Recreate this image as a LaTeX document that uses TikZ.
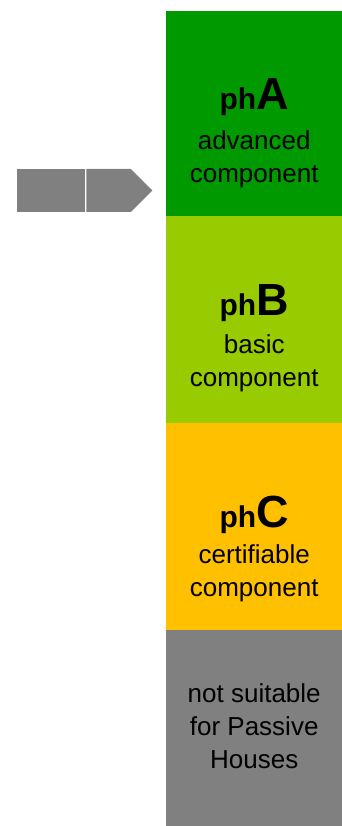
\documentclass[tikz,border=0pt]{standalone}
\usepackage{fontspec}
\setmainfont{Liberation Sans}
\usetikzlibrary{positioning,shapes.symbols}
\definecolor{gradeA}{HTML}{009900}
\definecolor{gradeB}{HTML}{99CC00}
\definecolor{gradeC}{HTML}{FFC000}
\definecolor{gradeN}{HTML}{808080}
\tikzset{
grade/.style={
  rectangle,
  inner sep=0pt,
  minimum width=176pt,
  anchor=north west
  },
title/.style={
  anchor=base,
  inner sep=0pt,
  font=\bfseries\fontsize{30}{36}\selectfont
  },
desc/.style={
  anchor=north,
  inner sep=0pt,
  align=center,
  font=\fontsize{26}{33}\selectfont
  },
marker/.style={
  fill=gradeN,
  inner sep=0pt,
  minimum height=43pt
  }
}
\newcommand{\bigltr}[1]{{\fontsize{45}{48}\selectfont #1}}

\begin{document}
\begin{tikzpicture}[x=1pt,y=-1pt]
\useasboundingbox (0,0) rectangle (342,826);

\node[grade,fill=gradeA,minimum height=205pt] (boxA) at (166,11) {};
\node[grade,fill=gradeB,minimum height=207pt] (boxB) at (166,216) {};
\node[grade,fill=gradeC,minimum height=207pt] (boxC) at (166,423) {};
\node[grade,fill=gradeN,minimum height=196pt] (boxN) at (166,630) {};

\node[title] (tA) at ([yshift=-99pt]boxA.north) {ph\bigltr{A}};
\node[desc] (dA) at ([yshift=-20pt]tA.base) {advanced\\component};

\node[title] (tB) at ([yshift=-99pt]boxB.north) {ph\bigltr{B}};
\node[desc] (dB) at ([yshift=-19pt]tB.base) {basic\\component};

\node[title] (tC) at ([yshift=-104pt]boxC.north) {ph\bigltr{C}};
\node[desc] (dC) at ([yshift=-17pt]tC.base) {certifiable\\component};

\node[desc] (dN) at ([yshift=-53pt]boxN.north) {not suitable\\for Passive\\Houses};

% marker on the left
\node[marker,rectangle,minimum width=68pt] (markL) at (51,190.5) {};
\node[marker,signal,signal to=east,signal pointer angle=90,
      minimum width=66pt,right=1pt of markL] (markR) {};
\end{tikzpicture}
\end{document}
